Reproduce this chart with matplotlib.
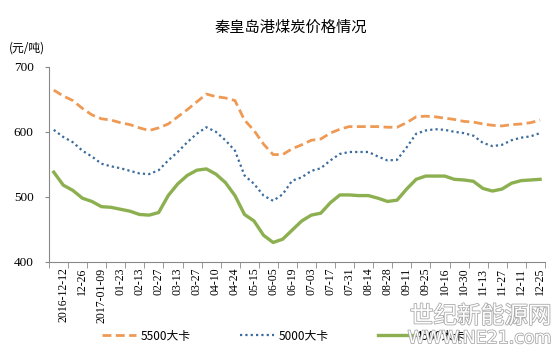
import numpy as np
import matplotlib.pyplot as plt
import matplotlib.patheffects as pe

# weekly prices (yuan/ton), 52 weeks, label every second week
p5500 = [664, 655, 648, 636, 626, 620, 618, 614, 611, 606, 602, 606, 612,
         623, 634, 646, 658, 654, 652, 648, 618, 602, 581, 565, 565, 574,
         580, 587, 589, 598, 604, 608, 608, 608, 608, 607, 607, 614, 623,
         624, 623, 621, 619, 616, 615, 612, 610, 609, 611, 612, 614, 618]
p5000 = [603, 592, 584, 571, 562, 551, 547, 544, 540, 536, 535, 541, 556,
         569, 584, 597, 607, 600, 587, 571, 533, 520, 502, 494, 504, 525,
         530, 540, 544, 556, 566, 569, 569, 569, 562, 556, 557, 576, 597,
         602, 604, 603, 600, 598, 594, 583, 578, 580, 587, 591, 593, 598]
p4500 = [538, 518, 510, 498, 493, 485, 484, 481, 478, 473, 472, 476, 502,
         520, 533, 541, 543, 535, 522, 502, 473, 463, 441, 430, 435, 449,
         463, 472, 475, 491, 503, 503, 502, 502, 498, 493, 495, 512, 527,
         532, 532, 532, 527, 526, 524, 513, 509, 512, 521, 525, 526, 527]
date_labels = ["2016-12-12", "12-26", "2017-01-09", "01-23", "02-13", "02-27",
               "03-13", "03-27", "04-10", "04-24", "05-15", "06-05", "06-19",
               "07-03", "07-17", "07-31", "08-14", "08-28", "09-11", "09-25",
               "10-16", "10-30", "11-13", "11-27", "12-11", "12-25"]
series_names = ["5500大卡", "5000大卡", "4500大卡"]

cjk = ["Noto Sans CJK SC", "DejaVu Sans"]
serif = "Liberation Serif"

fig = plt.figure(figsize=(5.6, 3.59), dpi=100)
ax = fig.add_axes([0.0875, 0.2702, 0.8855, 0.544])

x = np.arange(len(p5500))
ax.plot(x, p5500, color="#EE9A55", lw=2.0, dashes=(3.2, 1.6), label=series_names[0])
ax.plot(x, p5000, color="#3B6C9E", lw=1.6, dashes=(1.0, 1.4), label=series_names[1])
ax.plot(x, p4500, color="#8CB050", lw=2.4, label=series_names[2])

ax.set_xlim(-0.5, len(x) - 0.5)
ax.set_ylim(400, 700)
ax.set_yticks([400, 500, 600, 700])
ax.set_yticklabels(["400", "500", "600", "700"], fontfamily=serif, fontsize=9.5)
ax.tick_params(axis="y", length=3, pad=8, color="#888888")

ax.set_xticks(x[1::2])
ax.set_xticklabels(date_labels, rotation=90, fontfamily=serif, fontsize=8.5)
ax.set_xticks(np.arange(-0.5, len(x), 2), minor=True)
ax.tick_params(axis="x", which="major", length=0, pad=4)
ax.tick_params(axis="x", which="minor", length=4, color="#888888")

for s in ["top", "right"]:
    ax.spines[s].set_visible(False)
for s in ["left", "bottom"]:
    ax.spines[s].set_color("#888888")

fig.text(0.52, 0.925, "秦皇岛港煤炭价格情况", family=cjk, fontsize=11,
         ha="center", va="center")
fig.text(0.016, 0.866, "(元/吨)", family=cjk, fontsize=8.5, ha="left", va="center")

leg = fig.legend(loc="center", bbox_to_anchor=(0.507, 0.064), ncol=3, frameon=False,
                 prop={"family": cjk, "size": 8.5}, handlelength=2.9,
                 handletextpad=0.35, columnspacing=4.2)

# watermark
wm = [pe.withStroke(linewidth=1.2, foreground="#aaaaaa")]
fig.text(0.985, 0.118, "世纪新能源网", family=cjk, fontsize=17, color="white",
         ha="right", va="center", path_effects=wm, zorder=10)
fig.text(0.985, 0.058, "WWW.NE21.com", family="DejaVu Sans", fontsize=12.5,
         color="white", ha="right", va="center", path_effects=wm, zorder=10)

fig.savefig("out.png", dpi=100)
